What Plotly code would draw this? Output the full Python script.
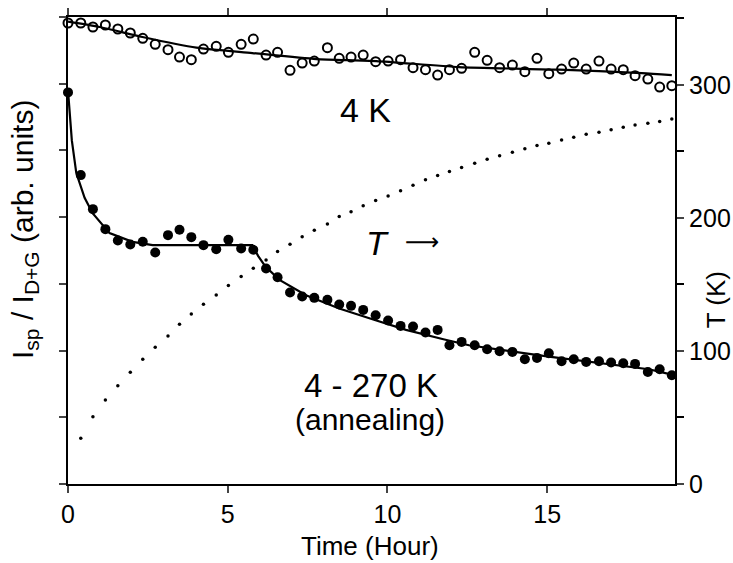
import plotly.graph_objects as go

# Measurement times (hours)
time_h = [0.00, 0.40, 0.78, 1.17, 1.56, 1.95, 2.34, 2.73, 3.13, 3.49,
          3.86, 4.24, 4.64, 5.02, 5.42, 5.80, 6.20, 6.56, 6.95, 7.33,
          7.71, 8.12, 8.49, 8.86, 9.24, 9.63, 10.02, 10.41, 10.80, 11.19,
          11.57, 11.94, 12.32, 12.73, 13.12, 13.51, 13.91, 14.30, 14.68, 15.05,
          15.45, 15.83, 16.22, 16.62, 17.00, 17.38, 17.75, 18.15, 18.52, 18.90]

# Intensity ratio held at 4 K (open circles)
ratio_4k = [6.91, 6.91, 6.85, 6.88, 6.82, 6.76, 6.68, 6.59, 6.51, 6.40,
            6.36, 6.52, 6.56, 6.47, 6.59, 6.67, 6.43, 6.47, 6.20, 6.31,
            6.34, 6.54, 6.38, 6.40, 6.43, 6.33, 6.34, 6.36, 6.24, 6.21,
            6.13, 6.21, 6.23, 6.47, 6.35, 6.24, 6.28, 6.18, 6.38, 6.15,
            6.22, 6.31, 6.22, 6.34, 6.22, 6.21, 6.12, 6.07, 5.95, 5.97]

# Intensity ratio during annealing 4-270 K (filled circles)
ratio_anneal = [5.87, 4.63, 4.12, 3.82, 3.65, 3.59, 3.63, 3.47, 3.73, 3.81,
                3.70, 3.58, 3.52, 3.66, 3.53, 3.51, 3.23, 3.10, 2.87, 2.81,
                2.79, 2.76, 2.69, 2.67, 2.61, 2.53, 2.45, 2.37, 2.36, 2.27,
                2.31, 2.08, 2.13, 2.08, 2.02, 1.99, 1.98, 1.87, 1.89, 1.96,
                1.84, 1.87, 1.83, 1.84, 1.82, 1.81, 1.80, 1.68, 1.72, 1.63]

# Sample temperature during annealing (K)
temp_time_h = time_h[1:]
temp_k = [34.4, 50.6, 63.2, 73.9, 84.0, 93.8, 102.8, 111.3, 120.1, 127.8,
          135.1, 142.1, 149.1, 155.9, 162.2, 168.4, 174.7, 180.2, 185.9, 190.7,
          195.5, 201.0, 204.7, 209.2, 213.0, 216.5, 220.5, 224.6, 228.6, 231.8,
          234.8, 237.8, 241.1, 244.1, 246.8, 249.4, 251.9, 254.4, 256.2, 258.6,
          260.7, 262.9, 264.4, 266.2, 268.2, 269.9, 271.2, 272.4, 274.4]

# Fitted curves
fit_4k_t = [0.0, 0.99, 2.33, 4.02, 5.77, 7.77, 9.65, 12.24, 15.37, 17.96, 18.9]
fit_4k_y = [6.93, 6.85, 6.70, 6.54, 6.46, 6.37, 6.34, 6.25, 6.21, 6.16, 6.13]

fit_anneal_t = [0.0, 0.05, 0.12, 0.26, 0.52, 0.77, 1.30, 2.02, 2.65, 5.77,
                5.95, 6.18, 6.62, 7.45, 8.49, 9.53, 10.58, 11.75, 12.55, 15.05,
                18.18, 18.9]
fit_anneal_y = [5.90, 5.61, 5.15, 4.66, 4.29, 4.06, 3.76, 3.63, 3.58, 3.58,
                3.42, 3.26, 3.06, 2.83, 2.63, 2.47, 2.31, 2.17, 2.08, 1.91,
                1.72, 1.64]

x_ticks = [0, 5, 10, 15]

FONT = "Liberation Sans, Arial, Helvetica, sans-serif"

fig = go.Figure()

fig.add_trace(go.Scatter(x=fit_4k_t, y=fit_4k_y, mode="lines",
                         line=dict(color="black", width=2.2, shape="spline", smoothing=0.6),
                         hoverinfo="skip", showlegend=False))
fig.add_trace(go.Scatter(x=fit_anneal_t, y=fit_anneal_y, mode="lines",
                         line=dict(color="black", width=2.2),
                         hoverinfo="skip", showlegend=False))
fig.add_trace(go.Scatter(x=time_h, y=ratio_4k, mode="markers",
                         marker=dict(symbol="circle-open", size=9, color="black",
                                     line=dict(width=2, color="black")),
                         showlegend=False, cliponaxis=False))
fig.add_trace(go.Scatter(x=time_h, y=ratio_anneal, mode="markers",
                         marker=dict(symbol="circle", size=10, color="black"),
                         showlegend=False, cliponaxis=False))
fig.add_trace(go.Scatter(x=temp_time_h, y=temp_k, mode="markers", yaxis="y2",
                         marker=dict(symbol="circle", size=3.5, color="black"),
                         showlegend=False, cliponaxis=False))


def label(x, y, text, size, ref="data", angle=0, family=FONT):
    fig.add_annotation(
        x=x, y=y,
        xref="x" if ref == "data" else "paper",
        yref="y" if ref == "data" else "paper",
        text=text, textangle=angle, showarrow=False,
        xanchor="center", yanchor="middle",
        font=dict(size=size, family=family, color="black"),
    )


# In-plot labels
label(9.31, 5.60, "4 K", 34)
label(9.68, 3.61, "<i>T</i>", 34)
label(11.08, 3.62, "\u27f6", 24, family="DejaVu Sans")
label(9.47, 1.48, "4 - 270 K", 33)
label(9.45, 0.96, "(annealing)", 30)

# Axis titles (paper coordinates span the plotting area)
label(0.4975, -0.132, "Time (Hour)", 26, ref="paper")
label(-0.0708, 0.544, "I<sub>sp</sub> / I<sub>D+G</sub> (arb. units)", 30, ref="paper", angle=-90)
label(1.068, 0.394, "T (K)", 26, ref="paper", angle=-90)

fig.update_layout(
    width=733, height=563,
    margin=dict(l=68, r=58, t=17, b=79, autoexpand=False),
    paper_bgcolor="white", plot_bgcolor="white",
    font=dict(family=FONT, color="black", size=24),
    xaxis=dict(
        range=[0, 19], tickvals=x_ticks, ticks="outside", ticklen=7, tickwidth=2,
        showline=True, linewidth=2.2, linecolor="black", mirror="ticks",
        showgrid=False, zeroline=False, automargin=False,
        tickfont=dict(size=25),
    ),
    yaxis=dict(
        range=[0, 7], dtick=1, ticks="outside", ticklen=7, tickwidth=2,
        showticklabels=False, showline=True, linewidth=2.2, linecolor="black",
        showgrid=False, zeroline=False, automargin=False,
    ),
    yaxis2=dict(
        range=[0, 351], overlaying="y", side="right",
        tick0=0, dtick=100,
        ticks="outside", ticklen=7, tickwidth=2,
        minor=dict(dtick=50, ticks="outside", ticklen=7, tickwidth=2, tickcolor="black"),
        showline=True, linewidth=2.2, linecolor="black",
        showgrid=False, zeroline=False, automargin=False,
        tickfont=dict(size=25),
    ),
)

fig.write_html("out.html")
